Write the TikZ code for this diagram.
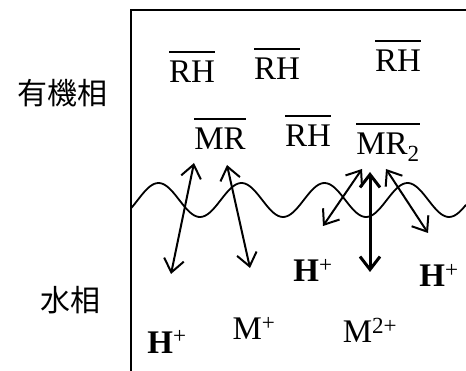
\documentclass[tikz,border=0pt]{standalone}
\usepackage{fontspec}
\setmainfont{Liberation Serif}
\newfontfamily\cjk{Noto Sans CJK JP}
\usetikzlibrary{arrows.meta}
\newcommand{\ovl}[1]{\setbox0=\hbox{#1}\hbox{\rlap{\raisebox{\dimexpr\ht0+8pt\relax}{\rule{\wd0}{2.2pt}}}\box0}}

\begin{document}
\begin{tikzpicture}[x=1pt, y=-1pt, font=\fontsize{33}{36}\selectfont,
    ion/.style={anchor=base, inner sep=0pt},
    phase/.style={font=\cjk\fontsize{30}{34}\selectfont, inner sep=0pt},
    dbl/.style={{Straight Barb[length=13pt,width=20pt]}-{Straight Barb[length=13pt,width=20pt]}, line width=2pt}]
      \useasboundingbox (0,0) rectangle (466,371);
      % frame
      \draw[line width=2.5pt] (466,10) -- (131,10) -- (131,371);
      \node[phase] (org) at (62,93) {有機相};
      \node[phase] (aq) at (70,300) {水相};
      % organic phase
      \foreach \xx/\yy [count = \i] in {192/83, 277/80, 398/72, 308/147}{
        \node[ion] (rh\i) at (\xx,\yy) {\ovl{RH}};
        }
      \node[ion] (mr) at (220,150) {\ovl{MR}};
      \node[ion] (mrtwo) at (388,155) {\ovl{MR\textsubscript{2}}};
      % interface (period 83)
      \draw[line width=1.8pt] plot[domain=131:466, samples=160, smooth] (\x, {200+17*cos(4.337*(\x-200))});
      % aqueous phase
      \node[ion] (hone) at (313,282) {\textbf{H}\textsuperscript{+}};
      \node[ion] (htwo) at (439,287) {\textbf{H}\textsuperscript{+}};
      \node[ion] (hthree) at (167,353) {\textbf{H}\textsuperscript{+}};
      \node[ion] (mplus) at (254,340) {M\textsuperscript{+}};
      \node[ion] (mtwoplus) at (370,343) {M\textsuperscript{2+}};
      % exchange arrows
      \coordinate (a1) at (171,274); \coordinate (b1) at (194,163);
      \coordinate (a2) at (250,268); \coordinate (b2) at (227,165);
      \coordinate (a3) at (323,226); \coordinate (b3) at (362,169);
      \coordinate (a4) at (370,272); \coordinate (b4) at (370,172);
      \coordinate (a5) at (428,233); \coordinate (b5) at (386,169);
      \draw[dbl] (a1) -- (b1);
      \draw[dbl] (a2) -- (b2);
      \draw[dbl] (a3) -- (b3);
      \draw[dbl, line width=3pt] (a4) -- (b4);
      \draw[dbl] (a5) -- (b5);
    \end{tikzpicture}
\end{document}
